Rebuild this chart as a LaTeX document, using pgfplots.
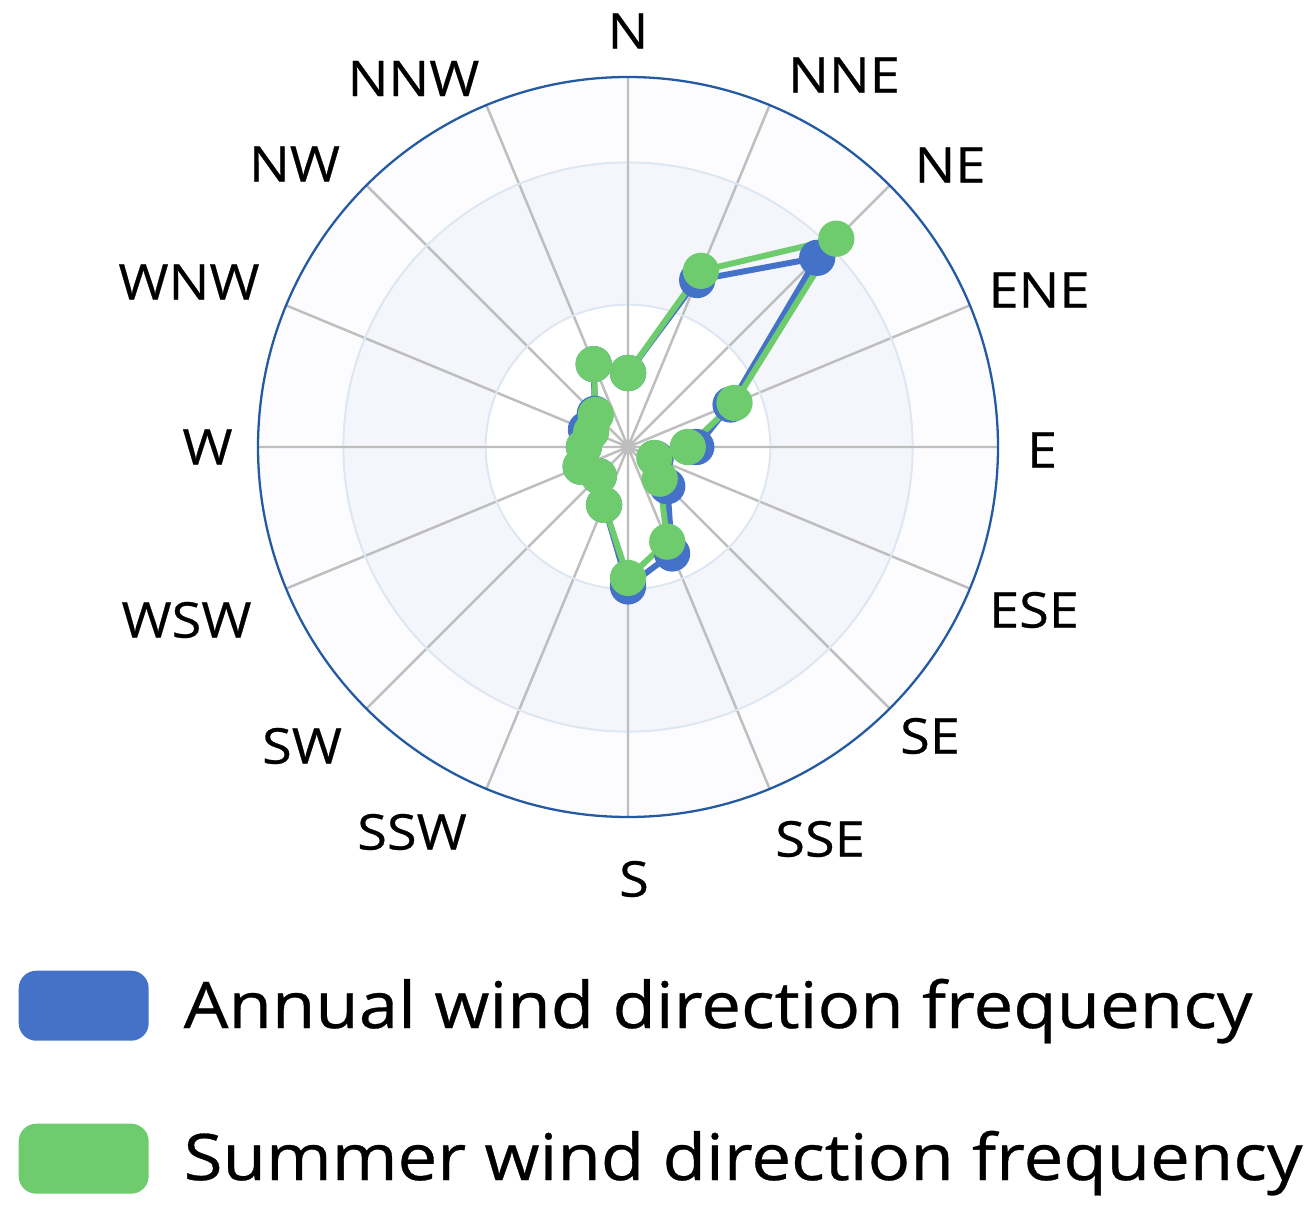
\documentclass[border=0pt]{standalone}
\usepackage{pgfplots}
\pgfplotsset{compat=1.18}
\usepgfplotslibrary{polar}
\usetikzlibrary{calc}
\usepackage{fontspec}
\setmainfont[FakeStretch=1.1, FakeBold=0.5]{Open Sans}

\definecolor{annual}{RGB}{68,114,201}
\definecolor{summer}{RGB}{110,204,110}
\definecolor{rim}{RGB}{36,90,162}
\definecolor{spoke}{RGB}{190,190,190}
\definecolor{spokemain}{RGB}{178,178,178}
\definecolor{ring}{RGB}{221,230,243}
\definecolor{bandmid}{RGB}{244,246,251}
\definecolor{bandout}{RGB}{252,252,254}

\begin{document}
\begin{tikzpicture}
\begin{polaraxis}[
    set layers,
    scale only axis,
    width=7.4cm, height=7.4cm,
    xmin=0, xmax=360,
    ymin=0, ymax=26,
    xtick={0,22.5,45,67.5,90,112.5,135,157.5,180,202.5,225,247.5,270,292.5,315,337.5},
    xticklabels={},
    ytick={10,20}, yticklabels={},
    xmajorgrids, ymajorgrids,
    x grid style={spoke, line width=0.7pt},
    y grid style={ring, line width=0.55pt},
    extra x ticks={0,90,180,270},
    extra x tick labels={},
    extra x tick style={grid style={spokemain, line width=0.95pt}},
    major tick length=0pt,
    axis line style={rim, line width=0.65pt},
    y axis line style={draw=none},
]
\begin{pgfonlayer}{axis background}
\fill[bandout] (axis cs:0,0) circle (3.7cm);
\fill[bandmid] (axis cs:0,0) circle (2.846cm);
\fill[white] (axis cs:0,0) circle (1.423cm);
\end{pgfonlayer}
\coordinate (c) at (axis cs:0,0);

% Annual
\addplot[annual, line width=1.7pt, mark=*, mark size=4.3pt,
    mark options={fill=annual, draw=annual}] coordinates {
    (90,5.2) (67.5,12.7) (45,18.8) (22.5,7.8) (0,4.8) (337.5,2.1)
    (315,3.9) (292.5,8.1) (270,9.8) (247.5,4.4) (225,2.9) (202.5,3.6)
    (180,3.1) (157.5,3.2) (135,3.3) (112.5,6.3) (90,5.2)
};
% Summer
\addplot[summer, line width=1.7pt, mark=*, mark size=4.3pt,
    mark options={fill=summer, draw=summer}] coordinates {
    (90,5.2) (67.5,13.4) (45,20.7) (22.5,8.1) (0,4.2) (337.5,2.0)
    (315,3.15) (292.5,7.2) (270,9.2) (247.5,4.4) (225,2.9) (202.5,3.6)
    (180,3.1) (157.5,2.8) (135,3.2) (112.5,6.3) (90,5.2)
};
\end{polaraxis}

% compass labels
\tikzset{dirlab/.style={anchor=center, inner sep=0pt, font=\fontsize{14}{16}\selectfont}}
\foreach \lx/\ly/\txt in {0.00/4.16/N, 2.16/3.72/NNE, 3.22/2.82/NE, 4.11/1.57/ENE,
    4.14/-0.03/E, 4.06/-1.63/ESE, 3.02/-2.89/SE, 1.92/-3.92/SSE,
    0.06/-4.32/S, -2.16/-3.85/SSW, -3.26/-2.99/SW, -4.415/-1.73/WSW,
    -4.205/0.00/W, -4.39/1.65/WNW, -3.335/2.83/NW, -2.145/3.685/NNW}
    \node[dirlab] at ($(c)+(\lx,\ly)$) {\txt};

% legend
\node[fill=annual, rounded corners=5pt, minimum width=1.3cm, minimum height=0.7cm,
    inner sep=0, anchor=north west] at ($(c)+(-6.10,-5.23)$) {};
\node[anchor=base west, inner sep=0, font=\fontsize{18.3}{22}\selectfont]
    at ($(c)+(-4.45,-5.81)$) {Annual wind direction frequency};
\node[fill=summer, rounded corners=5pt, minimum width=1.3cm, minimum height=0.7cm,
    inner sep=0, anchor=north west] at ($(c)+(-6.10,-6.76)$) {};
\node[anchor=base west, inner sep=0, font=\fontsize{18.3}{22}\selectfont]
    at ($(c)+(-4.45,-7.33)$) {Summer wind direction frequency};

\pgfresetboundingbox
\path[use as bounding box] ($(c)+(-6.28,4.47)$) rectangle ($(c)+(6.78,-7.74)$);
\end{tikzpicture}
\end{document}
